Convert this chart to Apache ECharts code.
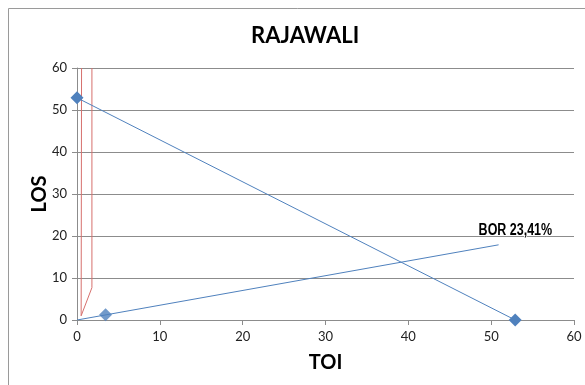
<!DOCTYPE html>
<html>
<head>
<meta charset="utf-8">
<script src="https://cdn.jsdelivr.net/npm/echarts@6/dist/echarts.min.js"></script>
<style>
  html, body { margin: 0; padding: 0; background: #fff; }
  #chart { width: 585px; height: 385px; }
</style>
</head>
<body>
<div id="chart"></div>
<script>
// Barber-Johnson diagram for the RAJAWALI ward (TOI on x, LOS on y)
const chartTitle = 'RAJAWALI';
const xName = 'TOI';
const yName = 'LOS';
const axisTicks = [0, 10, 20, 30, 40, 50, 60];

// Line joining the LOS intercept and the TOI intercept
const interceptLine = [[0, 52.9], [52.9, 0]];
// BOR line from the origin
const borLine = [[0, 0], [50.9, 17.9]];
const borLabel = 'BOR 23,41%';
// Point on the BOR line
const borPoint = [[3.45, 1.25]];
// Boundary lines near the LOS axis
const boundaryA = [[0.5, 1.0], [0.55, 60]];
const boundaryB = [[0.5, 1.0], [1.8, 7.7], [1.8, 60]];

const blue = '#4F81BD';
const red = '#D6706D';
const gridGray = '#8C8C8C';
const font = 'Lato, "Open Sans", sans-serif';

const chart = echarts.init(document.getElementById('chart'));

const axisCommon = {
  type: 'value',
  min: axisTicks[0],
  max: axisTicks[axisTicks.length - 1],
  interval: axisTicks[1] - axisTicks[0],
  nameLocation: 'middle',
  nameMoveOverlap: false,
  nameTextStyle: { fontFamily: font, fontWeight: 'bold', fontSize: 20, color: '#000' },
  axisLine: { show: true, onZero: false, lineStyle: { color: gridGray, width: 1 } },
  axisTick: { show: true, inside: false, length: 5, lineStyle: { color: gridGray } },
  axisLabel: { fontFamily: font, fontSize: 13, color: '#222' }
};

chart.setOption({
  animation: false,
  backgroundColor: '#fff',
  title: {
    text: chartTitle,
    left: 246,
    top: 20,
    textStyle: { fontFamily: font, fontWeight: 'bold', fontSize: 22, color: '#000' }
  },
  grid: { left: 77, top: 68, right: 11, bottom: 65 },
  xAxis: Object.assign({}, axisCommon, {
    name: xName,
    nameGap: 33,
    splitLine: { show: false },
    axisLabel: Object.assign({}, axisCommon.axisLabel, { margin: 10 })
  }),
  yAxis: Object.assign({}, axisCommon, {
    name: yName,
    nameGap: 27,
    splitLine: { show: true, lineStyle: { color: gridGray, width: 1 } },
    axisLabel: Object.assign({}, axisCommon.axisLabel, { margin: 10 })
  }),
  series: [
    {
      type: 'line',
      data: boundaryA,
      symbol: 'none',
      lineStyle: { color: red, width: 1 },
      z: 2
    },
    {
      type: 'line',
      data: boundaryB,
      symbol: 'none',
      lineStyle: { color: red, width: 1 },
      z: 2
    },
    {
      type: 'line',
      data: borLine,
      symbol: 'none',
      lineStyle: { color: blue, width: 1 },
      z: 3
    },
    {
      type: 'line',
      data: interceptLine,
      symbol: 'diamond',
      symbolSize: 13,
      itemStyle: { color: blue },
      lineStyle: { color: blue, width: 1 },
      z: 4
    },
    {
      type: 'scatter',
      data: borPoint,
      symbol: 'diamond',
      symbolSize: 13,
      itemStyle: { color: blue },
      z: 4
    }
  ]
});

// Outer chart frame and the condensed BOR tag placed at the end of the BOR line
const endPx = chart.convertToPixel({ gridIndex: 0 }, borLine[borLine.length - 1]);
chart.setOption({
  graphic: [
    {
      type: 'rect',
      shape: { x: 8.5, y: 8.5, width: 700, height: 500 },
      style: { fill: null, stroke: '#9a9a9a', lineWidth: 1 },
      silent: true,
      z: -1
    },
    {
      type: 'text',
      x: endPx[0] - 20,
      y: endPx[1] - 6,
      scaleX: 0.78,
      style: {
        text: borLabel,
        fill: '#000',
        font: 'bold 16px "Liberation Sans", Arial, sans-serif',
        textVerticalAlign: 'bottom',
        textBaseline: 'alphabetic',
        stroke: '#fff',
        lineWidth: 2
      },
      z: 10
    }
  ]
});
</script>
</body>
</html>
